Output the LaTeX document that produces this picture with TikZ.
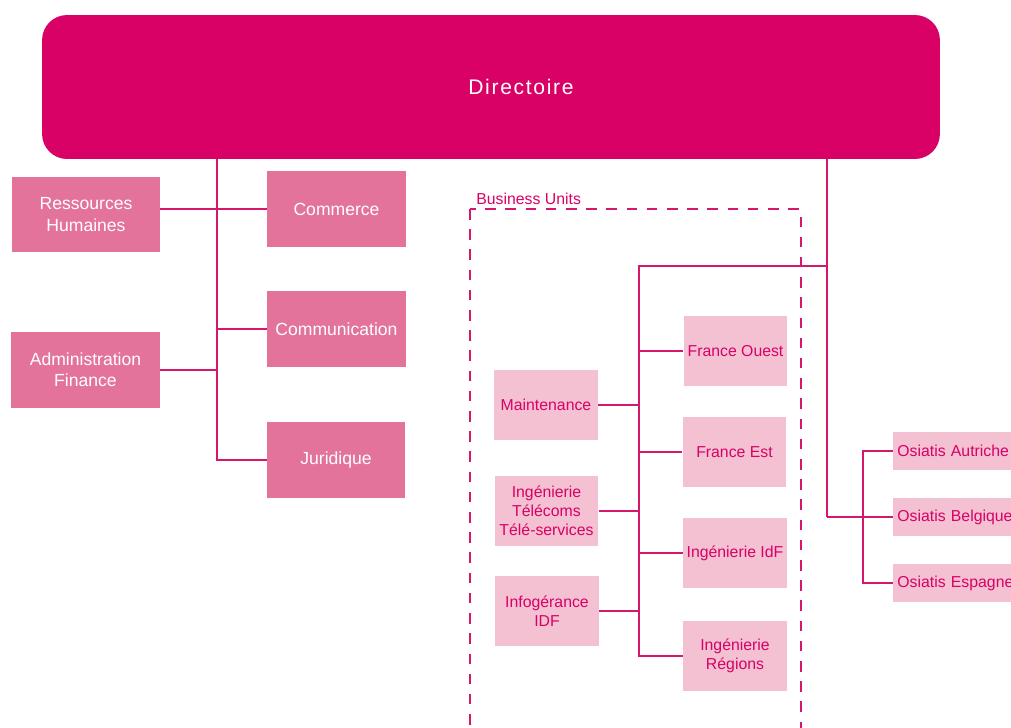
\documentclass[tikz,border=0pt]{standalone}
\usepackage{fontspec}
\setmainfont{Liberation Sans}
\newfontfamily\dirfont[LetterSpace=8]{Liberation Sans}
\usetikzlibrary{calc}
\definecolor{osmagenta}{HTML}{D90066}
\definecolor{osline}{HTML}{D6186C}
\definecolor{osmid}{HTML}{E3739A}
\definecolor{oslight}{HTML}{F3C1D2}
\tikzset{
	dirbox/.style={fill=osmagenta, rounded corners=0.5cm, text=white, minimum width=17.96cm, minimum height=2.88cm, font=\dirfont\fontsize{12}{14}\selectfont},
	staffbox/.style={fill=osmid, text=white, align=center, inner sep=0pt, minimum height=1.52cm, font=\fontsize{10}{12}\selectfont},
	unitbox/.style={fill=oslight, text=osmagenta, align=center, inner sep=0pt, minimum width=2.07cm, minimum height=1.4cm, font=\fontsize{9}{10.8}\selectfont},
	subbox/.style={fill=oslight, text=osmagenta, anchor=west, text width=2.9cm, align=left, inner xsep=0.08cm, inner ysep=0pt, minimum height=0.76cm, font=\fontsize{9}{10.8}\selectfont},
	link/.style={draw=osline, line width=1.134pt},
	bubox/.style={draw=osline, line width=1.134pt, dash pattern=on 6pt off 5.5pt}
}

\begin{document}
\begin{tikzpicture}[x=0.02cm, y=-0.02cm]
			%%%%% START %%%%%
			\useasboundingbox (0, 0) rectangle (1011, 727);
			
			\node[dirbox] (dir) at (491, 87) {\hspace*{1.2cm}Directoire};
			
			% staff
			\node[staffbox, minimum width=2.96cm] (rh) at (86, 214.5) {Ressources\\Humaines};
			\node[staffbox, minimum width=2.98cm] (af) at (85.5, 370) {Administration\\Finance};
			\node[staffbox, minimum width=2.78cm] (comm) at (336.5, 209) {Commerce};
			\node[staffbox, minimum width=2.78cm] (comu) at (336.5, 329) {Communication};
			\node[staffbox, minimum width=2.76cm] (jur) at (336, 460) {Juridique};
			
			\coordinate (lbot) at (217, 460);
			\draw[link] (dir.south -| lbot) -- (lbot) -- (jur.west);
			\draw[link] (rh.east |- comm.west) -- (comm.west);
			\draw[link] (comu.west -| lbot) -- (comu.west);
			\draw[link] (af.east) -- (af.east -| lbot);
			
			% business units
			\draw[bubox] (470, 209) rectangle (801, 790);
			\node[anchor=west, inner sep=0pt, text=osmagenta, font=\fontsize{9}{10.8}\selectfont] (bu) at (476, 199) {Business Units};
			
			\node[unitbox] (mnt) at (546, 405) {Maintenance};
			\node[unitbox] (itt) at (546.5, 511) {Ingénierie\\Télécoms\\Télé-services};
			\node[unitbox] (infog) at (547, 611) {Infogérance\\IDF};
			\node[unitbox] (fo) at (735.5, 351) {France Ouest};
			\node[unitbox] (fe) at (734.5, 452) {France Est};
			\node[unitbox] (idf) at (735, 553) {Ingénierie IdF};
			\node[unitbox] (reg) at (735, 656) {Ingénierie\\Régions};
			
			\coordinate (rbot) at (827, 517);
			\coordinate (rtop) at (827, 266);
			\coordinate (bujunc) at (639, 266);
			\draw[link] (dir.south -| rbot) -- (rbot);
			\draw[link] (rtop) -- (bujunc) -- (bujunc |- reg.west) -- (reg.west);
			\draw[link] (fo.west -| bujunc) -- (fo.west);
			\draw[link] (fe.west -| bujunc) -- (fe.west);
			\draw[link] (idf.west -| bujunc) -- (idf.west);
			\draw[link] (mnt.east) -- (mnt.east -| bujunc);
			\draw[link] (itt.east) -- (itt.east -| bujunc);
			\draw[link] (infog.east) -- (infog.east -| bujunc);
			
			% subsidiaries
			\node[subbox] (osa) at (893, 451) {Osiatis Autriche};
			\node[subbox] (osb) at (893, 517) {Osiatis Belgique};
			\node[subbox] (ose) at (893, 583) {Osiatis Espagne};
			
			\coordinate (ojunc) at (863, 517);
			\draw[link] (rbot) -- (osb.west);
			\draw[link] (osa.west) -- (osa.west -| ojunc) -- (ose.west -| ojunc) -- (ose.west);
			%%%%% END %%%%%
\end{tikzpicture}
\end{document}
